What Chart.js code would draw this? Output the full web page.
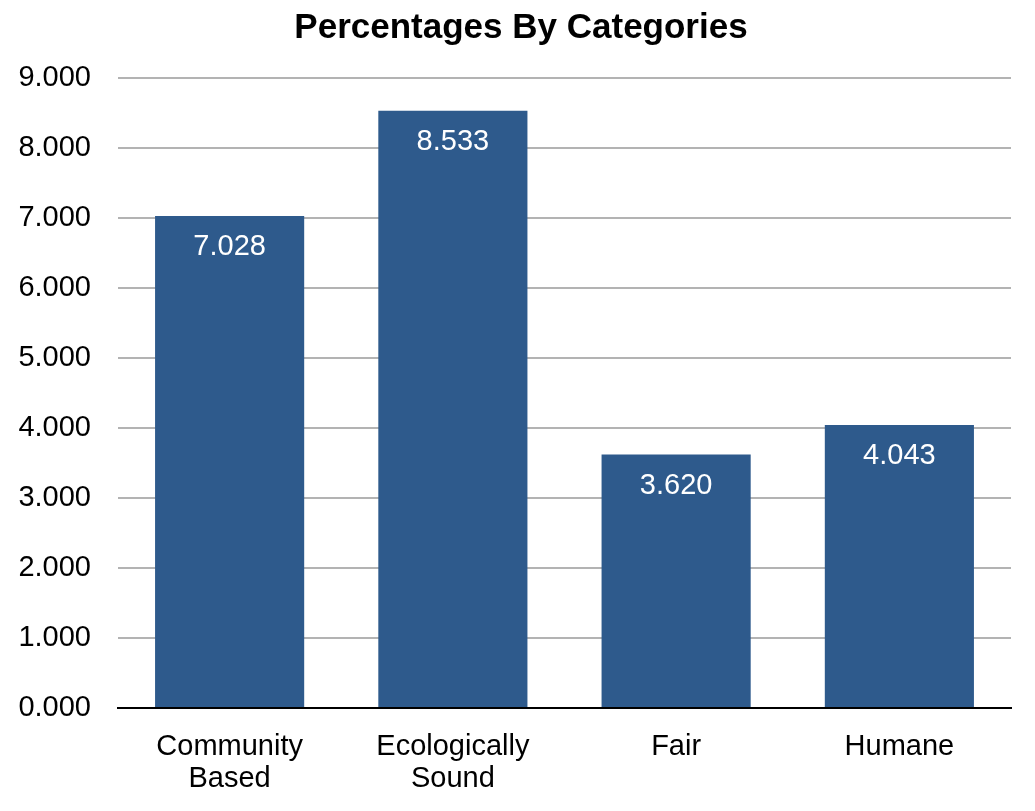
<!DOCTYPE html>
<html>
<head>
<meta charset="utf-8">
<script src="https://cdn.jsdelivr.net/npm/chart.js@4/dist/chart.umd.min.js"></script>
<style>
  html, body { margin: 0; padding: 0; background: #fff; }
  #wrap { width: 1035px; height: 811px; }
</style>
</head>
<body>
<div id="wrap"><canvas id="chart"></canvas></div>
<script>
const categories = [["Community", "Based"], ["Ecologically", "Sound"], "Fair", "Humane"];
const percentages = [7.028, 8.533, 3.620, 4.043];
const yTicks = [0, 1, 2, 3, 4, 5, 6, 7, 8, 9];

// values printed inside the top of each bar
const barLabels = {
  id: "barLabels",
  afterDatasetsDraw(chart) {
    const ctx = chart.ctx;
    const meta = chart.getDatasetMeta(0);
    ctx.save();
    ctx.fillStyle = "#ffffff";
    ctx.font = "29px 'Liberation Sans', Arial, sans-serif";
    ctx.textAlign = "center";
    ctx.textBaseline = "middle";
    meta.data.forEach((bar, i) => {
      ctx.fillText(percentages[i].toFixed(3), bar.x, bar.y + 31);
    });
    ctx.restore();
  }
};

const ctx = document.getElementById("chart").getContext("2d");
const myChart = new Chart(ctx, {
  type: "bar",
  data: {
    labels: categories,
    datasets: [
      {
        label: "Percentages",
        data: percentages,
        backgroundColor: "#2e5a8c",
        barPercentage: 0.668,
        categoryPercentage: 1.0,
      },
    ],
  },
  options: {
    responsive: true,
    maintainAspectRatio: false,
    animation: false,
    layout: { padding: { left: 7, right: 0, top: 0, bottom: 0 } },
    plugins: {
      legend: { display: false },
      tooltip: { enabled: false },
      title: {
        display: true,
        text: "Percentages By Categories",
        color: "#000",
        font: { family: "'Liberation Sans', Arial, sans-serif", size: 35, weight: "bold", lineHeight: 1.2 },
        padding: { top: 7, bottom: 29 },
      },
    },
    scales: {
      x: {
        z: 1,
        grid: { display: false },
        border: { display: true, color: "#000", width: 2 },
        ticks: {
          color: "#000",
          padding: 15,
          font: { family: "'Liberation Sans', Arial, sans-serif", size: 29, lineHeight: 1.1 },
          maxRotation: 0,
        },
        afterFit(scale) { scale.height = 103; },
      },
      y: {
        min: 0,
        max: 9,
        afterBuildTicks(scale) { scale.ticks = yTicks.map(v => ({ value: v })); },
        grid: { color: "#b3b3b3", lineWidth: 2, drawTicks: false },
        border: { display: false },
        ticks: {
          color: "#000",
          padding: 27,
          font: { family: "'Liberation Sans', Arial, sans-serif", size: 29 },
          callback: v => Number(v).toFixed(3),
        },
        afterFit(scale) { scale.width = 111; },
      },
      // empty right axis, only keeps the plot away from the right edge
      yRight: {
        position: "right",
        display: true,
        grid: { display: false },
        border: { display: false },
        ticks: { display: false },
        afterFit(scale) { scale.width = 24; },
      },
    },
  },
  plugins: [barLabels],
});
</script>
</body>
</html>
